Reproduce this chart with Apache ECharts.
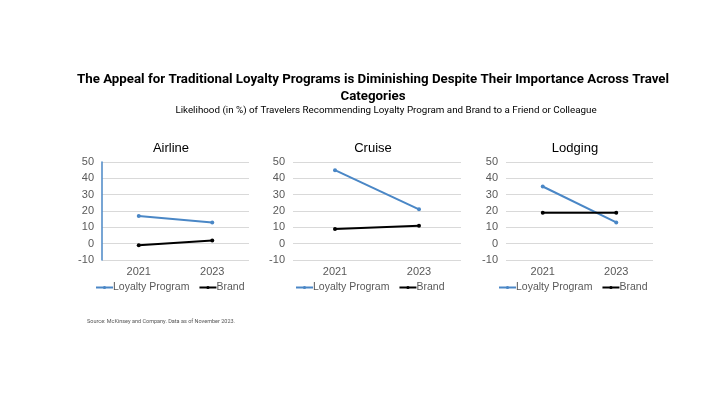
<!DOCTYPE html>
<html>
<head>
<meta charset="utf-8">
<script src="https://cdn.jsdelivr.net/npm/echarts@6/dist/echarts.min.js"></script>
<style>
html,body{margin:0;padding:0;background:#fff;}
#c{width:720px;height:405px;}
</style>
</head>
<body>
<div id="c"></div>
<script>
const years = ['2021', '2023'];
const panels = ['Airline', 'Cruise', 'Lodging'];
const loyaltyAirline = [17, 13];
const brandAirline = [-1, 2];
const loyaltyCruise = [45, 21];
const brandCruise = [9, 11];
const loyaltyLodging = [35, 13];
const brandLodging = [19, 19];
const yTicks = {min: -10, max: 50, interval: 10};

const loyaltyData = [loyaltyAirline, loyaltyCruise, loyaltyLodging];
const brandData = [brandAirline, brandCruise, brandLodging];

const BLUE = '#4a87c6';
const FONT = 'Roboto, "Liberation Sans", Arial, sans-serif';
const AXFONT = '"Liberation Sans", Arial, sans-serif';
const gridPos = [
  {left: 102, width: 147},
  {left: 293, width: 168},
  {left: 506, width: 147}
];
const titleCenters = [166, 368, 570];
const legendLeft = [95, 295, 498];

const chart = echarts.init(document.getElementById('c'), null, {renderer: 'canvas'});

const grids = [], xAxes = [], yAxes = [], series = [], titles = [], legends = [];

titles.push({
  text: 'The Appeal for Traditional Loyalty Programs is Diminishing Despite Their Importance Across Travel\nCategories',
  left: 368, top: 66, textAlign: 'center',
  textStyle: {fontFamily: FONT, fontSize: 13.3, fontWeight: 'bold', color: '#000', lineHeight: 17}
});
titles.push({
  text: 'Likelihood (in %) of Travelers Recommending Loyalty Program and Brand to a Friend or Colleague',
  left: 381, top: 101, textAlign: 'center',
  textStyle: {fontFamily: FONT, fontSize: 9.8, fontWeight: 'normal', color: '#000'}
});
titles.push({
  text: 'Source: McKinsey and Company. Data as of November 2023.',
  left: 82, top: 314,
  textStyle: {fontFamily: FONT, fontSize: 5.5, fontWeight: 'normal', color: '#555'}
});

panels.forEach((name, i) => {
  titles.push({
    text: name, left: titleCenters[i], top: 137, textAlign: 'center',
    textStyle: {fontFamily: AXFONT, fontSize: 13, fontWeight: 'normal', color: '#000'}
  });
  grids.push({left: gridPos[i].left, width: gridPos[i].width, top: 162, height: 98});
  xAxes.push({
    type: 'category', gridIndex: i, data: years, boundaryGap: true,
    axisLine: {show: false}, axisTick: {show: false},
    axisLabel: {fontFamily: AXFONT, fontSize: 11, color: '#595959', margin: 6}
  });
  yAxes.push({
    type: 'value', gridIndex: i, min: yTicks.min, max: yTicks.max, interval: yTicks.interval,
    axisLine: {show: i === 0, lineStyle: {color: BLUE, width: 1.5}},
    axisTick: {show: false},
    axisLabel: {fontFamily: AXFONT, fontSize: 11, color: '#595959', margin: 8},
    splitLine: {lineStyle: {color: '#d9d9d9', width: 1}}
  });
  series.push({
    name: 'Loyalty Program', type: 'line', xAxisIndex: i, yAxisIndex: i,
    data: loyaltyData[i], symbol: 'circle', symbolSize: 4,
    lineStyle: {color: BLUE, width: 2}, itemStyle: {color: BLUE},
    animation: false
  });
  series.push({
    name: 'Brand', type: 'line', xAxisIndex: i, yAxisIndex: i,
    data: brandData[i], symbol: 'circle', symbolSize: 4,
    lineStyle: {color: '#000', width: 2}, itemStyle: {color: '#000'},
    animation: false
  });
  legends.push({
    left: legendLeft[i], top: 282,
    data: ['Loyalty Program', 'Brand'],
    itemWidth: 17, itemHeight: 4, itemGap: 9,
    textStyle: {fontFamily: AXFONT, fontSize: 10.5, color: '#595959', padding: [0, 0, 0, -5]},
    selectedMode: false,
    padding: 0
  });
});

chart.setOption({
  animation: false,
  backgroundColor: '#fff',
  title: titles,
  grid: grids,
  xAxis: xAxes,
  yAxis: yAxes,
  legend: legends,
  series: series
});
</script>
</body>
</html>
